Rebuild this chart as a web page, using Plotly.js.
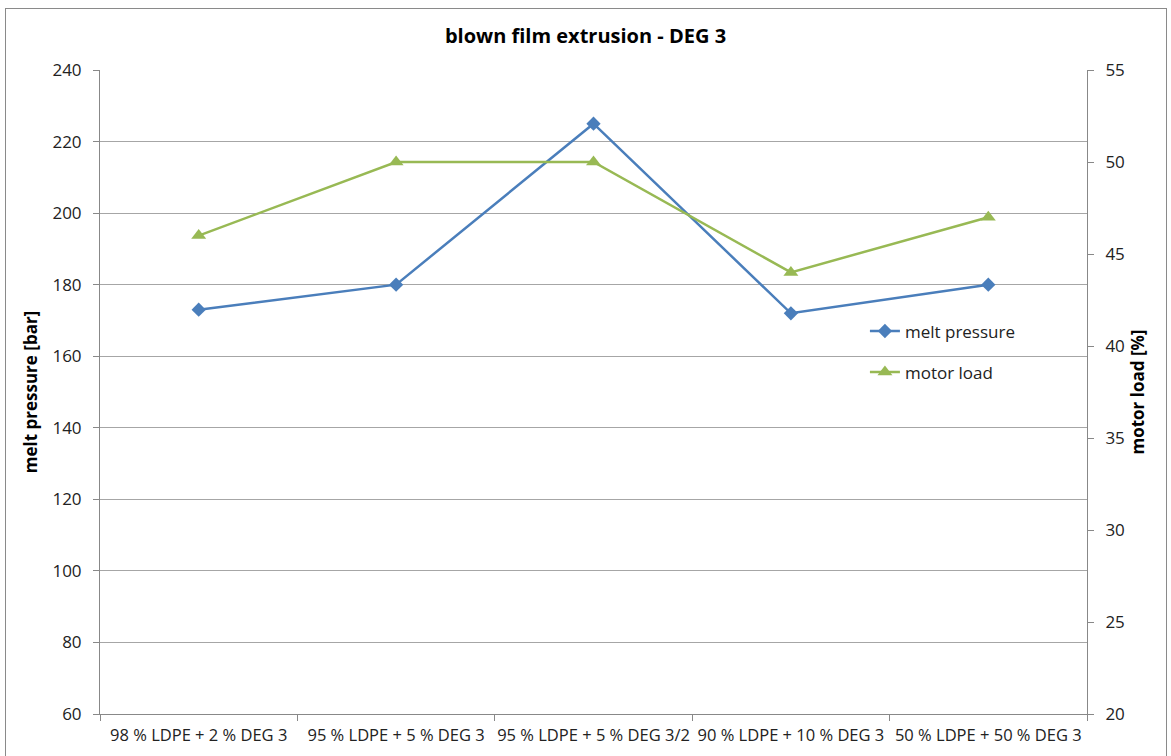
<!DOCTYPE html>
<html>
<head>
<meta charset="utf-8">
<script src="https://cdn.plot.ly/plotly-3.0.1.min.js"></script>
<style>
html,body{margin:0;padding:0;background:#fff;}
#frame{position:absolute;left:5px;top:8px;width:1162px;height:760px;border:1px solid #8a8a8a;box-sizing:border-box;}
#chart{position:absolute;left:0;top:0;width:1171px;height:756px;}
</style>
</head>
<body>
<div id="frame"></div>
<div id="chart"></div>
<script>
const categories = [
  "98 % LDPE + 2 % DEG 3",
  "95 % LDPE + 5 % DEG 3",
  "95 % LDPE + 5 % DEG 3/2",
  "90 % LDPE + 10 % DEG 3",
  "50 % LDPE + 50 % DEG 3"
];
const meltPressure = [173, 180, 225, 172, 180];
const motorLoad = [46, 50, 50, 44, 47];

const FONT = "Open Sans, Noto Sans, sans-serif";
const traces = [
  {
    type: "scatter", mode: "lines+markers", name: "melt pressure",
    x: categories, y: meltPressure, yaxis: "y",
    line: {color: "#4a7ebb", width: 2.5},
    marker: {symbol: "diamond", size: 11, color: "#4a7ebb"},
    legendgroup: "a"
  },
  {
    type: "scatter", mode: "lines+markers", name: "motor load",
    x: categories, y: motorLoad, yaxis: "y2",
    line: {color: "#98b954", width: 2.5},
    marker: {symbol: "triangle-up", size: 13, color: "#98b954"},
    legendgroup: "b"
  }
];

const layout = {
  width: 1171, height: 756,
  margin: {l: 100, r: 84, t: 70, b: 42},
  paper_bgcolor: "rgba(0,0,0,0)",
  plot_bgcolor: "#fff",
  font: {family: FONT, size: 16, color: "#222"},
  title: {text: "<b>blown film extrusion - DEG 3</b>", x: 0.5, xanchor: "center", y: 0.953, yanchor: "middle", font: {family: FONT, size: 20, color: "#000"}},
  showlegend: true,
  legend: {x: 0.775, y: 0.622, xanchor: "left", yanchor: "top", bgcolor: "rgba(255,255,255,0)", traceorder: "grouped", tracegroupgap: 16, font: {family: FONT, size: 17, color: "#222"}},
  xaxis: {
    type: "category", range: [-0.5, 4.5], tickson: "boundaries", ticks: "outside", ticklen: 6, tickcolor: "#888",
    tickangle: 0, ticklabelstandoff: 6,
    showline: true, linecolor: "#888", linewidth: 1, showgrid: false, zeroline: false,
    tickfont: {family: FONT, size: 16.5, color: "#222"}, fixedrange: true
  },
  yaxis: {
    range: [60, 240], dtick: 20, tick0: 60, ticks: "outside", ticklen: 6, tickcolor: "#888",
    showline: true, linecolor: "#888", linewidth: 1, showgrid: true, gridcolor: "#a6a6a6", gridwidth: 1,
    zeroline: false, tickfont: {family: FONT, size: 17, color: "#222"}, ticklabelstandoff: 8,
    title: {text: "<b>melt pressure [bar]</b>", font: {family: FONT, size: 17, color: "#000"}, standoff: 10}
  },
  yaxis2: {
    range: [20, 55], dtick: 5, tick0: 20, overlaying: "y", side: "right", ticks: "outside", ticklen: 6, tickcolor: "#888",
    showline: true, linecolor: "#888", linewidth: 1, showgrid: false, zeroline: false,
    tickfont: {family: FONT, size: 17, color: "#222"}, ticklabelstandoff: 8,
    title: {text: "<b>motor load [%]</b>", font: {family: FONT, size: 17, color: "#000"}, standoff: 8}
  }
};

Plotly.newPlot("chart", traces, layout, {displayModeBar: false, staticPlot: true});
</script>
</body>
</html>
